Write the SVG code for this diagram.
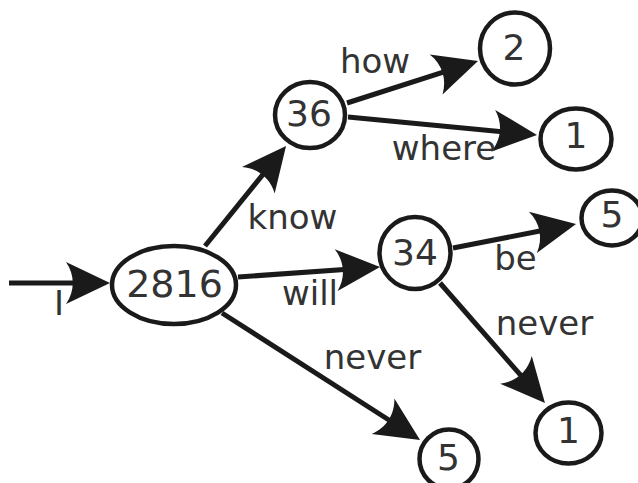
<svg xmlns="http://www.w3.org/2000/svg" width="638" height="483" viewBox="0 0 638 483">
<style>
.node ellipse{fill:#fff;stroke:#1a1a1a;stroke-width:4.5}
.node text{font-family:"DejaVu Sans","Liberation Sans",sans-serif;font-size:36px;fill:#333;text-anchor:middle}
.edge line{stroke:#1a1a1a;stroke-width:5;marker-end:url(#arr)}
.lbl{font-family:"DejaVu Sans","Liberation Sans",sans-serif;font-size:34px;fill:#333;text-anchor:middle}
</style>
<defs>
<marker id="arr" markerUnits="userSpaceOnUse" markerWidth="60" markerHeight="60" viewBox="-30 -30 60 60" refX="0" refY="0" orient="auto" overflow="visible">
<path d="M25,0 L-19,-21 C-10,-8 -10,8 -19,21 Z" fill="#1a1a1a"/>
</marker>
</defs>
<rect width="638" height="483" fill="#fff"/>
<g id="connectors" class="edge">
<line x1="9" y1="283" x2="85" y2="283"/>
<line x1="205" y1="246" x2="270.3" y2="165.4"/>
<line x1="238" y1="277" x2="355.1" y2="268.8"/>
<line x1="222" y1="313" x2="399" y2="426.5"/>
<line x1="347" y1="103" x2="454.2" y2="68.6"/>
<line x1="348" y1="117" x2="512.1" y2="132.6"/>
<line x1="453" y1="248" x2="551.5" y2="228.8"/>
<line x1="440" y1="283" x2="528.5" y2="384.2"/>
</g>
<g id="labels">
<text class="lbl" x="59" y="315">I</text>
<text class="lbl" x="292.5" y="229">know</text>
<text class="lbl" x="375" y="73">how</text>
<text class="lbl" x="444" y="160">where</text>
<text class="lbl" x="310" y="305">will</text>
<text class="lbl" x="515.5" y="270">be</text>
<text class="lbl" x="544.5" y="335">never</text>
<text class="lbl" x="372.5" y="369">never</text>
</g>
<g id="n2816" class="node"><ellipse cx="174" cy="285" rx="62" ry="39"/><text x="174.5" y="297" style="font-size:38px">2816</text></g>
<g id="n36" class="node"><ellipse cx="310" cy="115" rx="35" ry="33"/><text x="309" y="126">36</text></g>
<g id="n2" class="node"><ellipse cx="515" cy="48.5" rx="35" ry="36"/><text x="514" y="60">2</text></g>
<g id="n1a" class="node"><ellipse cx="576" cy="139" rx="35.5" ry="30.5"/><text x="576" y="148">1</text></g>
<g id="n34" class="node"><ellipse cx="415" cy="253" rx="35.5" ry="36"/><text x="415" y="265">34</text></g>
<g id="n5a" class="node"><ellipse cx="612" cy="218" rx="30.5" ry="27.5"/><text x="612" y="227">5</text></g>
<g id="n1b" class="node"><ellipse cx="568.5" cy="433" rx="33" ry="30.5"/><text x="568.5" y="443">1</text></g>
<g id="n5b" class="node"><ellipse cx="449" cy="459" rx="29.5" ry="29.5"/><text x="448.5" y="470">5</text></g>
</svg>
